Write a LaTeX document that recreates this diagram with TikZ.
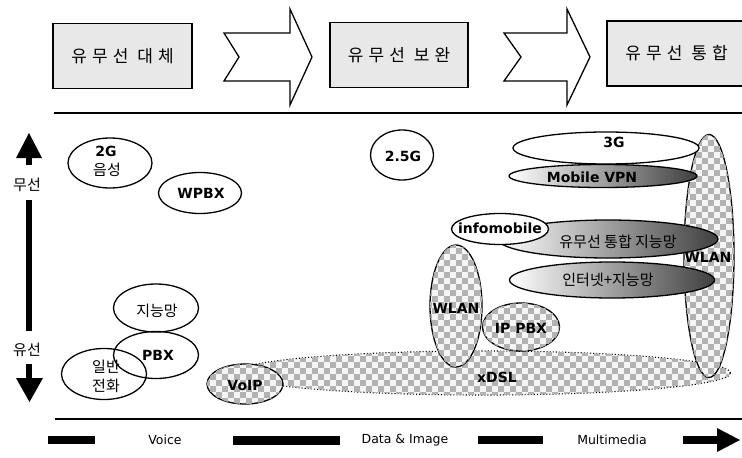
\documentclass[tikz,border=0pt]{standalone}
\usepackage{fontspec}
\setmainfont{DejaVu Sans}
\newfontfamily\kr{Noto Sans CJK KR}
\newfontfamily\krsp[LetterSpace=30]{Noto Sans CJK KR}
\usetikzlibrary{patterns.meta,shapes.geometric}
\tikzdeclarepattern{
  name=chk,
  type=uncolored,
  bounding box={(-.1pt,-.1pt) and (12.1pt,12.1pt)},
  tile size={(12pt,12pt)},
  code={
    \fill (0pt,0pt) rectangle (6pt,6pt);
    \fill (6pt,6pt) rectangle (12pt,12pt);
  }
}
\tikzset{
  boxst/.style={draw, line width=1.4pt, fill=gray!18, minimum height=65pt, inner sep=0pt,
    font=\krsp\fontsize{17}{20}\selectfont},
  bigarrow/.style={draw, line width=1.3pt, fill=white, line join=miter},
  ell/.style={ellipse, draw, line width=1.3pt, inner sep=0pt},
  chkfill/.style={fill=gray!8, postaction={pattern=chk, pattern color=gray!60}},
  grad/.style={left color=white, middle color=gray!35, right color=black!75},
  lbl/.style={font=\bfseries\fontsize{14}{16}\selectfont, inner sep=0pt},
  krl/.style={font=\kr\fontsize{15}{17}\selectfont, inner sep=0pt},
  legtext/.style={font=\fontsize{12.5}{14}\selectfont, inner sep=0pt},
  legbar/.style={line width=8pt},
}
\begin{document}
\begin{tikzpicture}[x=1pt,y=-1pt]
\useasboundingbox (0,0) rectangle (742,458);
\fill[white] (0,0) rectangle (742,458);

% top stage boxes
\node[boxst, minimum width=139pt] (b1) at (122.5,56) {유무선 대체};
\node[boxst, minimum width=138pt] (b2) at (399,55) {유무선 보완};
\node[boxst, minimum width=139pt] (b3) at (676.5,53.5) {유무선 통합};

% chevron arrows
\draw[bigarrow] (224,33) -- (290,33) -- (290,9) -- (312,57) -- (290,105) -- (290,81) -- (224,81) -- (239,57) -- cycle;
\draw[bigarrow] (504,33) -- (567,33) -- (567,9) -- (590,57) -- (567,105) -- (567,81) -- (504,81) -- (521,57) -- cycle;

% horizontal rules
\coordinate (t1) at (54,113);
\coordinate (t2) at (742,113);
\coordinate (u1) at (55,419);
\coordinate (u2) at (742,419);
\draw[line width=1.5pt] (t1) -- (t2);
\draw[line width=1.5pt] (u1) -- (u2);

% left axis
\fill (16,158) -- (29,133) -- (42,158) -- cycle;
\fill (25.5,156) rectangle (32,165);
\node[krl] (wl) at (27,185) {무선};
\fill (25.5,200) rectangle (32,331);
\node[krl] (wd) at (27,350) {유선};
\fill (25.5,364) rectangle (32,379);
\fill (16,378) -- (43,378) -- (29.5,402) -- cycle;

% voice-era ellipses
\node[ell, minimum width=84pt, minimum height=50pt] (g2) at (110,163) {};
\node[lbl] (g2a) at (106,151) {2G};
\node[krl] (g2b) at (107,170) {음성};
\node[ell, minimum width=83pt, minimum height=41pt] (wpbx) at (200,193) {};
\node[lbl] (wpbxt) at (201,193) {WPBX};
\node[ell, minimum width=85pt, minimum height=48pt] (inet) at (156,308) {};
\node[krl] (inett) at (157,311) {지능망};
\node[ell, minimum width=85pt, minimum height=47pt] (pbx) at (156,355) {};
\node[lbl] (pbxt) at (158,355) {PBX};
\node[ell, minimum width=85pt, minimum height=51pt] (pstn) at (104,374) {};
\node[krl] (pstna) at (106,367) {일반};
\node[krl] (pstnb) at (106,386) {전화};

% 2.5G
\node[ell, minimum width=63pt, minimum height=50pt] (g25) at (402,155) {};
\node[lbl] (g25t) at (403,156) {2.5G};

% xDSL band
\node[ellipse, draw, dotted, line width=1.1pt, chkfill, minimum width=495pt, minimum height=44pt] (xdsl) at (483,373) {};
\node[ell, chkfill, minimum width=76pt, minimum height=40pt] (voip) at (245,384) {};
\node[lbl] (voipt) at (245,385) {VoIP};
\node[lbl] (xdslt) at (497,377) {xDSL};

% WLAN (middle) and IP PBX
\node[ell, chkfill, minimum width=52pt, minimum height=122pt] (wlan1) at (456,306) {};
\node[lbl] (wlan1t) at (456,308) {WLAN};
\node[ell, chkfill, minimum width=77pt, minimum height=48pt] (ippbx) at (521,327) {};
\node[lbl] (ippbxt) at (521,328) {IP PBX};

% big WLAN
\node[ell, chkfill, minimum width=50pt, minimum height=243pt] (wlan2) at (709,256) {};

% integration ellipses
\node[ell, fill=white, minimum width=186pt, minimum height=32pt] (g3) at (606,148) {};
\node[lbl] (g3t) at (614,142) {3G};
\node[ell, grad, minimum width=188pt, minimum height=23pt] (mvpn) at (603,176) {};
\node[lbl] (mvpnt) at (592,177) {Mobile VPN};
\node[ell, grad, minimum width=220pt, minimum height=38pt] (wwin) at (608,239) {};
\node[krl] (wwint) at (618,242) {유무선 통합 지능망};
\node[ell, fill=white, minimum width=97pt, minimum height=31pt] (info) at (500,229) {};
\node[lbl] (infot) at (500,228) {infomobile};
\node[ell, grad, minimum width=205pt, minimum height=36pt] (iin) at (612,280) {};
\node[krl] (iint) at (608,280) {인터넷+지능망};
\node[lbl] (wlan2t) at (708,257) {WLAN};

% legend
\coordinate (l1a) at (48,440);
\coordinate (l1b) at (95,440);
\draw[legbar] (l1a) -- (l1b);
\node[legtext] (lv) at (165,440) {Voice};
\coordinate (l2a) at (233,440);
\coordinate (l2b) at (340,440);
\draw[legbar, line width=9pt] (l2a) -- (l2b);
\node[legtext] (ld) at (405,440) {Data \& Image};
\coordinate (l3a) at (478,440);
\coordinate (l3b) at (543,440);
\draw[legbar] (l3a) -- (l3b);
\node[legtext] (lm) at (612,440) {Multimedia};
\coordinate (l4a) at (683,440);
\coordinate (l4b) at (718,440);
\draw[legbar] (l4a) -- (l4b);
\fill (717,428) -- (740,440) -- (717,452) -- cycle;
\end{tikzpicture}
\end{document}
